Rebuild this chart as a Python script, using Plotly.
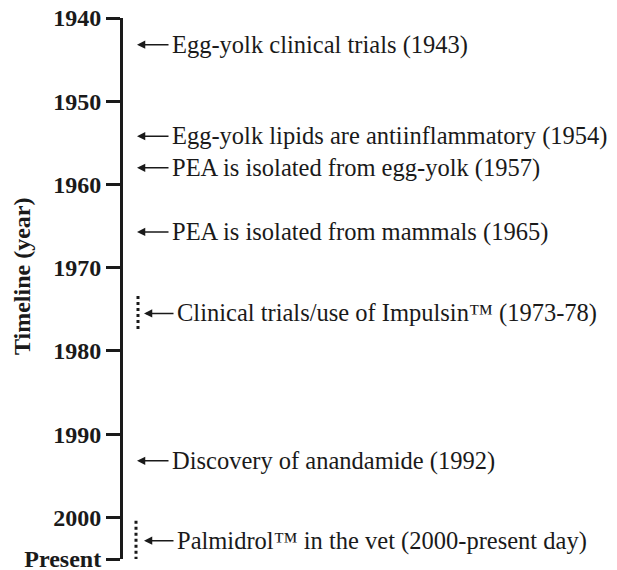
import plotly.graph_objects as go

# Axis ticks
tick_years = [1940, 1950, 1960, 1970, 1980, 1990, 2000, 2005]
tick_labels = ["1940", "1950", "1960", "1970", "1980", "1990", "2000", "Present"]

# Events (label text and position on the timeline)
event_labels = [
    "Egg-yolk clinical trials (1943)",
    "Egg-yolk lipids are antiinflammatory (1954)",
    "PEA is isolated from egg-yolk (1957)",
    "PEA is isolated from mammals (1965)",
    "Clinical trials/use of Impulsin\u2122 (1973-78)",
    "Discovery of anandamide (1992)",
    "Palmidrol\u2122 in the vet (2000-present day)",
]
event_pos = [1943.2, 1954.2, 1958.0, 1965.7, 1975.5, 1993.2, 2002.8]
event_ranged = [False, False, False, False, True, False, True]

# Period ranges (dotted bars)
range_starts = [1973, 2000]
range_ends = [1978, 2005]

AXIS_TITLE = "Timeline (year)"
FONT = "Liberation Serif"

fig = go.Figure()
fig.add_trace(go.Scatter(x=[0], y=[1940], mode="markers", marker=dict(opacity=0),
                         showlegend=False, hoverinfo="skip"))

shapes = []
for i, (s, e) in enumerate(zip(range_starts, range_ends)):
    xx = 15 if i == 0 else 13
    s2 = s + 0.4
    e2 = e - 0.3 if i == 0 else e + 0.2
    shapes.append(dict(type="line", xref="x", yref="y", x0=xx, x1=xx, y0=s2, y1=e2,
                       line=dict(color="#1a1a1a", width=3, dash="dot")))

annotations = []
for lab, pos, rng in zip(event_labels, event_pos, event_ranged):
    tip = 21 if rng else 14
    tail = 52 if rng else 47
    annotations.append(dict(x=tip, y=pos, ax=tail, ay=pos, xref="x", yref="y",
                            axref="x", ayref="y", text="", showarrow=True,
                            arrowhead=2, arrowsize=1.1, arrowwidth=1.5,
                            arrowcolor="#1a1a1a"))
    annotations.append(dict(x=tail, y=pos, xref="x", yref="y", text=lab,
                            showarrow=False, xanchor="left", yanchor="middle",
                            font=dict(family=FONT, size=24.5, color="#1a1a1a")))

# Axis title (placed as rotated annotation to match the reference position)
annotations.append(dict(x=-0.2045, y=0.523, xref="paper", yref="paper",
                        text="<b>" + AXIS_TITLE + "</b>", textangle=-90,
                        showarrow=False, xanchor="center", yanchor="middle",
                        font=dict(family=FONT, size=24, color="#1a1a1a")))

fig.update_layout(
    width=617, height=570,
    margin=dict(l=123, r=0, t=18, b=11),
    paper_bgcolor="white", plot_bgcolor="white",
    showlegend=False,
    font=dict(family=FONT),
    shapes=shapes, annotations=annotations,
    xaxis=dict(range=[0, 494], visible=False, fixedrange=True, automargin=False),
    yaxis=dict(range=[2005, 1940], tickvals=tick_years, ticktext=tick_labels,
               automargin=False, ticklabeloverflow="allow", fixedrange=True,
               ticks="outside", ticklen=14, tickwidth=3, tickcolor="#1a1a1a",
               showline=True, linewidth=3, linecolor="#1a1a1a",
               showgrid=False, zeroline=False,
               tickfont=dict(family=FONT, size=24, color="#1a1a1a", weight="bold")),
)

fig.write_html("out.html", config={"displayModeBar": False},
               post_script="document.body.style.margin='0';document.body.style.overflow='hidden';")
